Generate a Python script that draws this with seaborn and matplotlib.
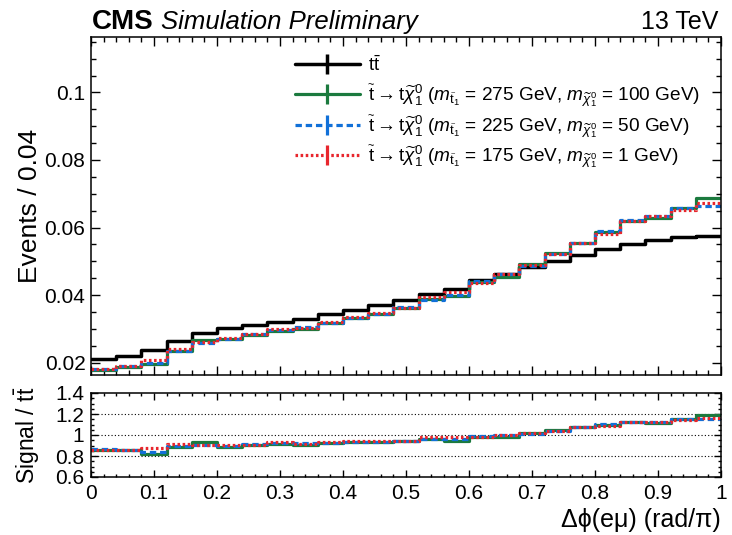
import numpy as np
import pandas as pd
import matplotlib
matplotlib.use("Agg")
import matplotlib.pyplot as plt
from matplotlib.lines import Line2D
from matplotlib.legend import Legend
from matplotlib.ticker import MultipleLocator
import seaborn as sns

sns.set_theme(style="white")
plt.rcParams['font.family'] = ['Liberation Sans', 'DejaVu Sans']
plt.rcParams['text.color'] = 'black'
plt.rcParams['axes.labelcolor'] = 'black'
plt.rcParams['xtick.color'] = 'black'
plt.rcParams['ytick.color'] = 'black'
plt.rcParams['mathtext.fontset'] = 'custom'
plt.rcParams['mathtext.rm'] = 'Liberation Sans'
plt.rcParams['mathtext.it'] = 'Liberation Sans:italic'
plt.rcParams['mathtext.bf'] = 'Liberation Sans:bold'
plt.rcParams['mathtext.sf'] = 'Liberation Sans'

# ---- data -----------------------------------------------------------
bin_edges = [round(i * 0.04, 2) for i in range(26)]
ttbar = [0.0210, 0.0220, 0.0238, 0.0263, 0.0287, 0.0302, 0.0312, 0.0321, 0.0330,
         0.0343, 0.0356, 0.0370, 0.0386, 0.0403, 0.0419, 0.0445, 0.0464, 0.0482,
         0.0502, 0.0518, 0.0536, 0.0551, 0.0563, 0.0571, 0.0576]
stop_275_100 = [0.01791, 0.01877, 0.01956, 0.02341, 0.02681, 0.02688, 0.02817, 0.02937,
                0.03000, 0.03183, 0.03325, 0.03456, 0.03628, 0.03893, 0.03968, 0.04379,
                0.04538, 0.04926, 0.05256, 0.05553, 0.05880, 0.06182, 0.06283, 0.06584,
                0.06860]
stop_225_50 = [0.01817, 0.01890, 0.01999, 0.02359, 0.02592, 0.02709, 0.02855, 0.02979,
               0.03043, 0.03183, 0.03325, 0.03456, 0.03644, 0.03865, 0.04018, 0.04410,
               0.04626, 0.04863, 0.05226, 0.05553, 0.05912, 0.06215, 0.06351, 0.06584,
               0.06641]
stop_175_1 = [0.01804, 0.01890, 0.02090, 0.02406, 0.02609, 0.02727, 0.02836, 0.02998,
              0.03020, 0.03204, 0.03346, 0.03478, 0.03628, 0.03941, 0.04098, 0.04352,
              0.04626, 0.04897, 0.05226, 0.05553, 0.05816, 0.06182, 0.06351, 0.06515,
              0.06716]

labels = [
    r"t$\bar{\mathrm{t}}$",
    r"$\widetilde{\mathrm{t}}\rightarrow\mathrm{t}\widetilde{\chi}^{0}_{1}$ ($m_{\widetilde{\mathrm{t}}_{1}}$ = 275 GeV, $m_{\widetilde{\chi}^{0}_{1}}$ = 100 GeV)",
    r"$\widetilde{\mathrm{t}}\rightarrow\mathrm{t}\widetilde{\chi}^{0}_{1}$ ($m_{\widetilde{\mathrm{t}}_{1}}$ = 225 GeV, $m_{\widetilde{\chi}^{0}_{1}}$ = 50 GeV)",
    r"$\widetilde{\mathrm{t}}\rightarrow\mathrm{t}\widetilde{\chi}^{0}_{1}$ ($m_{\widetilde{\mathrm{t}}_{1}}$ = 175 GeV, $m_{\widetilde{\chi}^{0}_{1}}$ = 1 GeV)",
]

# ---- styles ---------------------------------------------------------
c_black = "#000000"
c_green = "#1b7a3e"
c_blue = "#1170d8"
c_red = "#e8262d"
styles = [
    dict(color=c_black, linestyle="-", linewidth=2.5),
    dict(color=c_green, linestyle="-", linewidth=2.3),
    dict(color=c_blue, linestyle=(0, (2.0, 1.2)), linewidth=2.3),
    dict(color=c_red, linestyle=(0, (0.8, 0.8)), linewidth=2.3),
]

W, H = 732, 535
fig = plt.figure(figsize=(W / 100, H / 100), dpi=100)
fig.patch.set_facecolor("white")

def fx(px):
    return px / W

def fy(py):
    return 1 - py / H

ax = fig.add_axes([fx(91), fy(375), fx(721) - fx(91), fy(37) - fy(375)])
axr = fig.add_axes([fx(91), fy(477), fx(721) - fx(91), fy(393) - fy(477)])

edges = np.array(bin_edges)
centers = 0.5 * (edges[:-1] + edges[1:])
series = [ttbar, stop_275_100, stop_225_50, stop_175_1]

for vals, st in zip(series, styles):
    df = pd.DataFrame({"x": centers, "w": np.array(vals, dtype=float)})
    sns.histplot(data=df, x="x", weights="w", bins=bin_edges, element="step",
                 fill=False, ax=ax, **st)

ttb = np.array(ttbar)
for vals, st in zip(series[1:], styles[1:]):
    df = pd.DataFrame({"x": centers, "w": np.array(vals) / ttb})
    sns.histplot(data=df, x="x", weights="w", bins=bin_edges, element="step",
                 fill=False, ax=axr, **st)

for yv in [0.8, 1.0, 1.2]:
    axr.axhline(yv, color="black", linestyle=(0, (1, 2)), linewidth=0.8, zorder=0)

# ---- axes formatting -------------------------------------------------
for a in (ax, axr):
    a.set_facecolor("white")
    for sp in a.spines.values():
        sp.set_visible(True)
        sp.set_color("black")
        sp.set_linewidth(1.1)
    a.xaxis.set_major_locator(MultipleLocator(0.1))
    a.xaxis.set_minor_locator(MultipleLocator(0.02))
    a.tick_params(which="both", direction="in", top=True, right=True,
                  bottom=True, left=True, colors="black", labelcolor="black", width=1.0)
    a.tick_params(which="major", length=6.5, labelsize=15, pad=4)
    a.tick_params(which="minor", length=3.5)
    a.set_xlabel("")
    a.set_ylabel("")
    a.grid(False)

ax.set_yticks([0.02, 0.04, 0.06, 0.08, 0.1])
ax.set_yticklabels(["0.02", "0.04", "0.06", "0.08", "0.1"])
ax.yaxis.set_minor_locator(MultipleLocator(0.005))
ax.tick_params(axis="x", labelbottom=False)

axr.set_yticks([0.6, 0.8, 1.0, 1.2, 1.4])
axr.set_yticklabels(["0.6", "0.8", "1", "1.2", "1.4"])
axr.yaxis.set_minor_locator(MultipleLocator(0.05))
axr.set_xticks([round(i * 0.1, 1) for i in range(11)])
axr.set_xticklabels(["0", "0.1", "0.2", "0.3", "0.4", "0.5", "0.6", "0.7", "0.8", "0.9", "1"])
axr.tick_params(which="major", length=5, pad=5)
axr.tick_params(which="minor", length=2.5)

ax.set_xlim(0, 1)
ax.set_ylim(0.01636, 0.1164)
axr.set_xlim(0, 1)
axr.set_ylim(0.6, 1.4)

ax.set_ylabel("Events / 0.04", fontsize=19)
ax.yaxis.set_label_coords(-0.078, 0.5)
axr.set_ylabel(r"Signal / t$\bar{\mathrm{t}}$", fontsize=16.5)
axr.yaxis.set_label_coords(-0.078, 0.5)
axr.set_xlabel(r"Δϕ(eμ) (rad/π)", fontsize=18, ha="right", va="top")
axr.xaxis.set_label_coords(1.0, -0.37)

# ---- header text ------------------------------------------------------
fig.text(fx(92), fy(29), "CMS", fontsize=20, fontweight="bold", ha="left", va="baseline")
fig.text(fx(161), fy(29), "Simulation Preliminary", fontsize=18.5, style="italic",
         ha="left", va="baseline")
fig.text(fx(718), fy(29), "13 TeV", fontsize=18, ha="right", va="baseline")

# ---- legend (one row per entry, placed at the reference row heights) ---
row_y = [0.917, 0.825, 0.734, 0.645]
for i, (st, lab) in enumerate(zip(styles, labels)):
    h = Line2D([0], [0], color=st["color"], linestyle=st["linestyle"],
               linewidth=st["linewidth"], marker="|", markersize=15,
               markeredgewidth=st["linewidth"])
    lg = Legend(ax, [h], [lab], loc="center left", bbox_to_anchor=(0.324, row_y[i]),
                frameon=False, fontsize=13.7, handlelength=3.4, handletextpad=0.45,
                borderpad=0, borderaxespad=0)
    ax.add_artist(lg)

fig.savefig("out.png", dpi=100, facecolor="white")
